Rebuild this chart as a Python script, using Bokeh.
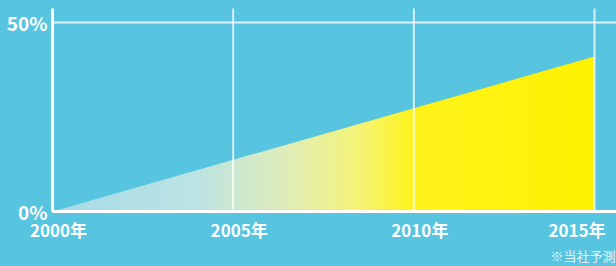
import numpy as np
from jinja2 import Template
from bokeh.plotting import figure
from bokeh.models import Range1d
from bokeh.core.properties import value
from bokeh.embed import file_html
from bokeh.resources import INLINE

# ---- data ----
years = [2000, 2015]
share = [0, 41]
x_ticks = [2000, 2005, 2010, 2015]
x_tick_labels = ["2000年", "2005年", "2010年", "2015年"]
y_ticks = [0, 50]
y_tick_labels = ["0%", "50%"]
note = "※当社予測"

# ---- style ----
BG = "#57c4e0"
FONT = "Noto Sans CJK JP"
W, H = 616, 266
grad_x = [2000, 2004, 2006.5, 2008.5, 2010, 2015]
grad_c = ["#a6dbea", "#bde4e3", "#e0edb9", "#f5f476", "#fff31c", "#fff200"]

# pixel geometry of the plotting region (left, right, top, bottom)
PX_L, PX_R, PX_T, PX_B = 52, 594, 22, 211
kx = (PX_R - PX_L) / (x_ticks[-1] - x_ticks[0])
ky = (PX_B - PX_T) / (y_ticks[-1] - y_ticks[0])
x0 = x_ticks[0] - PX_L / kx
x1 = x_ticks[-1] + (W - PX_R) / kx
y0 = -(H - PX_B) / ky
y1 = PX_B / ky
ytop = (PX_B - 8) / ky

p = figure(width=W, height=H, output_backend="svg", toolbar_location=None,
           x_range=Range1d(x0, x1), y_range=Range1d(y0, y1),
           min_border=0)
p.axis.visible = False
p.grid.visible = False
p.background_fill_color = BG
p.border_fill_color = BG
p.outline_line_color = None

# gradient fill under the line
N = 300
xs = np.linspace(years[0], years[-1], N)
def hex2rgb(h):
    h = h.lstrip("#")
    return [int(h[i:i + 2], 16) for i in (0, 2, 4)]
cols = np.array([hex2rgb(c) for c in grad_c])
img = np.empty((2, N), dtype=np.uint32)
view = img.view(dtype=np.uint8).reshape((2, N, 4))
for k in range(3):
    view[:, :, k] = np.interp(xs, grad_x, cols[:, k]).astype(np.uint8)[None, :]
view[:, :, 3] = 255
top = max(share)
p.image_rgba(image=[img], x=years[0], y=0, dw=years[-1] - years[0], dh=top)
# mask above the line
p.varea(x=years, y1=share, y2=[top + 1] * len(years), fill_color=BG)

# grid lines (vertical at year ticks, horizontal at 50%)
gx = x_ticks[1:]
p.segment(x0=gx, y0=[y_ticks[0]] * len(gx), x1=gx, y1=[ytop] * len(gx),
          line_color="white", line_width=2, line_alpha=0.75)
p.segment(x0=[x_ticks[0]], y0=[y_ticks[-1]], x1=[x1], y1=[y_ticks[-1]],
          line_color="white", line_width=2, line_alpha=0.8)
# axis lines
p.segment(x0=[x_ticks[0], x_ticks[0]], y0=[y_ticks[0], y_ticks[0]],
          x1=[x1, x_ticks[0]], y1=[y_ticks[0], ytop],
          line_color="white", line_width=3)

# y tick labels
p.text(x=[x_ticks[0]] * len(y_ticks), y=y_ticks, text=y_tick_labels,
       text_color="white", text_font=value(FONT), text_font_style="bold",
       text_font_size="19px", text_align="right", text_baseline="middle",
       x_offset=-5)

# x tick labels
p.text(x=x_ticks[:-1], y=[y_ticks[0]] * (len(x_ticks) - 1),
       text=x_tick_labels[:-1], text_color="white", text_font=value(FONT),
       text_font_style="bold", text_font_size="17px", text_align="center",
       text_baseline="middle", x_offset=6, y_offset=18)
p.text(x=x_ticks[-1:], y=[y_ticks[0]], text=x_tick_labels[-1:],
       text_color="white", text_font=value(FONT), text_font_style="bold",
       text_font_size="17px", text_align="right", text_baseline="middle",
       x_offset=11, y_offset=18)

# note
p.text(x=[x_ticks[-1]], y=[y_ticks[0]], text=[note], text_color="#e6f5fa",
       text_font=value(FONT), text_font_size="13px", text_align="left",
       text_baseline="middle", x_offset=-44, y_offset=44)

tmpl = Template("""{% extends base %}
{% block preamble %}<style>html,body{margin:0;padding:0;background:#57c4e0;overflow:hidden;}</style>{% endblock %}""")

open("out.html", "w").write(file_html(p, INLINE, template=tmpl))
